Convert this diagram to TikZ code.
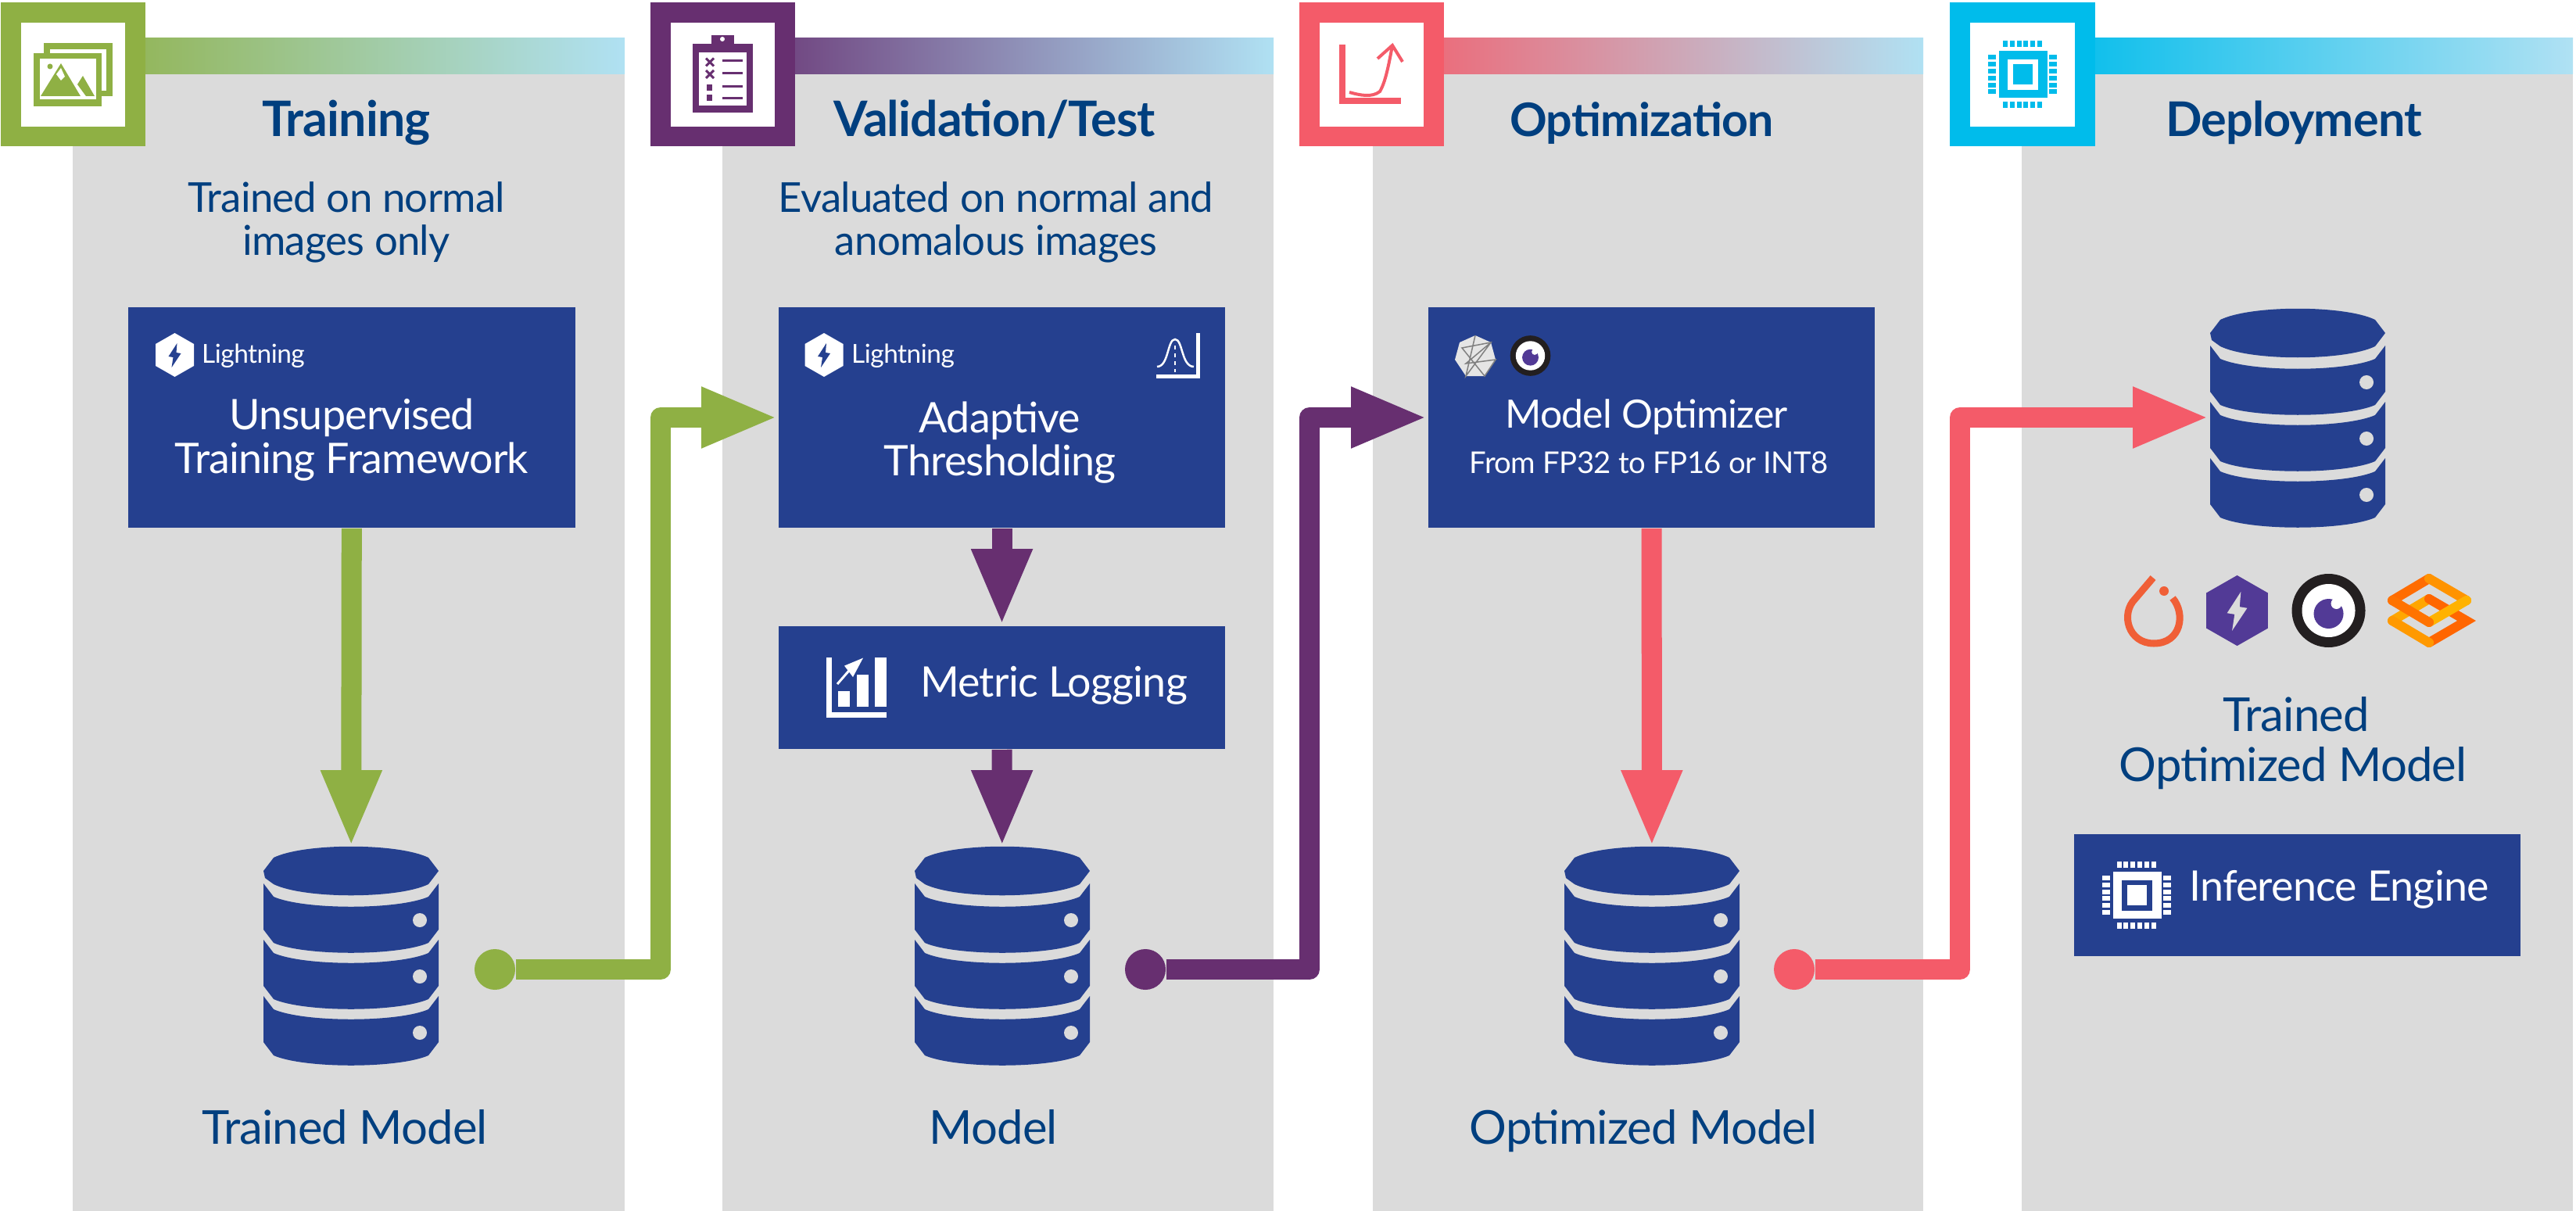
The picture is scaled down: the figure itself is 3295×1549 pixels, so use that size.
\documentclass[tikz,border=0pt]{standalone}
\usepackage{fontspec}
\setmainfont{Lato}
\usetikzlibrary{arrows.meta,positioning}
\definecolor{panelgray}{HTML}{DBDBDB}
\definecolor{boxblue}{HTML}{25408F}
\definecolor{inkblue}{HTML}{003F7F}
\definecolor{leafgreen}{HTML}{8FB044}
\definecolor{plum}{HTML}{672F70}
\definecolor{coral}{HTML}{F45B69}
\definecolor{skyblue}{HTML}{00BCEB}
\definecolor{barend}{HTML}{B0E1F3}
\definecolor{logopurple}{HTML}{523A96}
\definecolor{logoblack}{HTML}{231F20}
\definecolor{torchred}{HTML}{F05F37}
\newfontface\tightfont[LetterSpace=-1.5]{Lato}
\newfontface\headfont[LetterSpace=-1.5]{Lato Bold}
\tikzset{
  bluebox/.style={fill=boxblue,text=white,inner sep=0pt,minimum width=5.71cm},
  spot/.style={inner sep=0pt,minimum size=1pt},
  heading/.style={text=inkblue,anchor=base,font=\fontsize{17.8}{17.8}\headfont,inner sep=0pt},
  caption/.style={text=inkblue,anchor=base,font=\fontsize{15}{15}\tightfont,inner sep=0pt},
  modelname/.style={text=inkblue,anchor=base,font=\fontsize{17}{17}\tightfont,inner sep=0pt},
  boxtext/.style={text=white,anchor=base,font=\fontsize{15.3}{15.3}\tightfont,inner sep=0pt},
  litetext/.style={text=white,anchor=base,inner sep=0pt,font=\fontsize{9.5}{9.5}\tightfont},
  flow/.style={line width=0.26cm,line join=round,-{Triangle[length=0.98cm,width=0.71cm]}},
}
% stacked disks, centred on x y
\newcommand{\dbstack}[2]{
  \begin{scope}[shift={(#1,#2)},fill=boxblue]
  \fill (-112,-110) -- (-99,-127) .. controls (-60,-146) and (60,-146) .. (99,-127) -- (112,-110)
    -- (99,-93) .. controls (60,-74) and (-60,-74) .. (-99,-93) -- (-110,-101) -- cycle;
  \foreach \dy in {0,72,144} {
    \fill (-112,-94+\dy) -- (-99,-77+\dy) .. controls (-60,-60+\dy) and (60,-60+\dy) .. (99,-77+\dy)
      -- (112,-94+\dy) -- (112,-35+\dy) -- (99,-18+\dy) .. controls (60,-1+\dy) and (-60,-1+\dy) .. (-99,-18+\dy)
      -- (-112,-35+\dy) -- cycle;
    \fill[panelgray] (88,-47+\dy) circle[radius=9];
  }
  \end{scope}
}
% hexagon with a bolt
\newcommand{\bolthex}[5]{
  \begin{scope}[shift={(#1,#2)},scale=#3]
  \fill[#4] (0,-28) -- (24.5,-14) -- (24.5,14) -- (0,28) -- (-24.5,14) -- (-24.5,-14) -- cycle;
  \fill[#5] (3,-15) -- (-8,2) -- (-2,3) -- (-4,16) -- (8,-2) -- (2,-3) -- cycle;
  \end{scope}
}
\newcommand{\eyelogo}[3]{
  \begin{scope}[shift={(#1,#2)},scale=#3]
  \fill[logoblack] (0,0) circle[radius=47];
  \fill[white] (0,0) circle[radius=34];
  \fill[logopurple] (0,4) circle[radius=19];
  \fill[white] (10,-9) circle[radius=7];
  \end{scope}
}
\newcommand{\chipicon}[4]{
  \begin{scope}[shift={(#1,#2)}]
  \fill[#3] (-31,-30) rectangle (31,30);
  \fill[#4] (-20,-19) rectangle (19,20);
  \fill[#3] (-13,-13) rectangle (12,13);
  \foreach \k in {0,...,5} {
    \fill[#3] (-26+\k*8.8,-43) rectangle (-20+\k*8.8,-35);
    \fill[#3] (-26+\k*8.8,35) rectangle (-20+\k*8.8,43);
    \fill[#3] (-45,-25+\k*8.8) rectangle (-35,-19+\k*8.8);
    \fill[#3] (33,-25+\k*8.8) rectangle (43,-19+\k*8.8);
  }
  \end{scope}
}
\begin{document}
\begin{tikzpicture}[x=0.01cm,y=-0.01cm]
  \useasboundingbox (0,0) rectangle (3295,1549);

  % panels
  \fill[panelgray] (93,95) rectangle (799,1549);
  \fill[panelgray] (924,95) rectangle (1629,1549);
  \fill[panelgray] (1756,95) rectangle (2460,1549);
  \fill[panelgray] (2586,95) rectangle (3291,1549);

  % header bars
  \shade[left color=leafgreen!85!barend,right color=barend] (186,49) rectangle (799,95);
  \shade[left color=plum!85!barend,right color=barend] (1017,49) rectangle (1629,95);
  \shade[left color=coral!85!barend,right color=barend] (1847,49) rectangle (2460,95);
  \shade[left color=skyblue!90!barend,right color=barend] (2680,49) rectangle (3291,95);

  % icon tiles
  \fill[leafgreen] (1,3) rectangle (186,187);
  \fill[white] (27,29) rectangle (160,162);
  \fill[plum] (832,3) rectangle (1017,187);
  \fill[white] (858,29) rectangle (991,162);
  \fill[coral] (1662,3) rectangle (1847,187);
  \fill[white] (1688,29) rectangle (1821,162);
  \fill[skyblue] (2494,3) rectangle (2680,187);
  \fill[white] (2520,29) rectangle (2654,162);

  % pictures icon
  \fill[leafgreen] (56,55) rectangle (144,123);
  \fill[white] (64,63) rectangle (136,116);
  \fill[leafgreen] (43,68) rectangle (130,136);
  \fill[white] (51,75) rectangle (123,127);
  \fill[leafgreen] (52,123) -- (78,81) -- (103,123) -- cycle;
  \fill[white] (72,95) -- (78,87) -- (83,98) -- (78,103) -- cycle;
  \fill[leafgreen] (64,85) circle[radius=3.5];
  \fill[leafgreen] (99,108) -- (106,97) -- (121,123) -- (110,123) -- cycle;

  % clipboard icon
  \fill[plum] (886,56) rectangle (963,144);
  \fill[plum] (910,45) rectangle (939,60);
  \fill[plum] (904,56) rectangle (945,66);
  \fill[white] (894,67) rectangle (955,135);
  \fill[white] (924,50) circle[radius=3];
  \foreach \ly in {78,94,111,126} \draw[plum,line width=0.03cm] (924,\ly) -- (950,\ly);
  \foreach \ly in {79.5,95} \draw[plum,line width=0.03cm] (903,\ly-5) -- (913,\ly+5) (903,\ly+5) -- (913,\ly-5);
  \foreach \ly in {112,125} \fill[plum] (904,\ly-4) rectangle (911,\ly+4);

  % curve icon
  \draw[coral,line width=0.08cm] (1717,57) -- (1717,129.5) -- (1792,129.5);
  \draw[coral,line width=0.04cm] (1726,118) .. controls (1740,122) and (1755,125) .. (1765,117)
    .. controls (1772,105) and (1776,85) .. (1781,58);
  \draw[coral,line width=0.04cm] (1762,75) -- (1781,58) -- (1794,79);

  \chipicon{2588}{95.5}{skyblue}{white}

  % headings
  \node[heading] (titleA) at (443,175) {Training};
  \node[heading] (titleB) at (1272,175) {Validation/Test};
  \node[heading,font=\fontsize{16.8}{16.8}\headfont] (titleC) at (2100,175) {Optimization};
  \node[heading,font=\fontsize{17.4}{17.4}\headfont] (titleD) at (2934,175) {Deployment};

  \node[caption] (noteA) at (443,272) {Trained on normal};
  \node[caption] (noteAb) at (443,327) {images only};
  \node[caption] (noteB) at (1274,272) {Evaluated on normal and};
  \node[caption] (noteBb) at (1274,327) {anomalous images};

  % blue boxes
  \node[bluebox,minimum height=2.82cm] (boxA) at (450,534) {};
  \node[bluebox,minimum height=2.82cm] (boxB) at (1281.5,534) {};
  \node[bluebox,minimum height=1.57cm] (boxM) at (1281.5,879.5) {};
  \node[bluebox,minimum height=2.82cm] (boxC) at (2112.5,534) {};
  \node[bluebox,minimum height=1.565cm] (boxE) at (2938.5,1145) {};

  \bolthex{223.5}{454}{1}{white}{boxblue}
  \bolthex{1054}{454}{1}{white}{boxblue}
  \node[litetext] (liteA) at (324,464) {Lightning};
  \node[litetext] (liteB) at (1155,464) {Lightning};

  \node[boxtext] (textA) at (450,549) {Unsupervised};
  \node[boxtext] (textAb) at (450,605) {Training Framework};
  \node[boxtext] (textB) at (1279,553) {Adaptive};
  \node[boxtext] (textBb) at (1279,608) {Thresholding};
  \node[boxtext] (textM) at (1348,891) {Metric Logging};
  \node[boxtext,font=\fontsize{14.2}{14.2}\tightfont] (textC) at (2106,547) {Model Optimizer};
  \node[boxtext,font=\fontsize{10.9}{10.9}\tightfont] (textCb) at (2109,605) {From FP32 to FP16 or INT8};
  \node[boxtext] (textE) at (2992,1152) {Inference Engine};

  % bell curve icon
  \draw[white,line width=0.05cm] (1532,426) -- (1532,481) -- (1479,481);
  \draw[white,line width=0.025cm] (1480,469) .. controls (1495,469) and (1493,434) .. (1503,434)
    .. controls (1513,434) and (1511,469) .. (1527,469);
  \draw[white,line width=0.02cm,dash pattern=on 0.05cm off 0.05cm] (1503,442) -- (1503,476);

  % bars icon
  \draw[white,line width=0.07cm] (1060.5,841) -- (1060.5,914) -- (1134,914);
  \fill[white] (1072,884) rectangle (1087,904);
  \fill[white] (1096,863) rectangle (1111,904);
  \fill[white] (1118.5,841) rectangle (1134,904);
  \draw[white,line width=0.03cm] (1071,875) -- (1091,852);
  \fill[white] (1104,841.6) -- (1080,851.6) -- (1091,866) -- cycle;

  % optimizer logos
  \fill[white!90!black] (1887,429) -- (1907,438) -- (1913,460) -- (1899,481) -- (1875,481) -- (1861,460) -- (1867,438) -- cycle;
  \draw[gray,line width=0.015cm] (1887,429) -- (1875,481) -- (1907,438) -- (1870,445) -- (1899,481) -- (1913,460) -- (1875,465) -- (1907,438);
  \eyelogo{1957.5}{455}{0.55}

  % cylinders
  \node[spot,minimum width=2.24cm,minimum height=2.8cm] (dbA) at (449,1224) {};
  \node[spot,minimum width=2.24cm,minimum height=2.8cm] (dbB) at (1282,1224) {};
  \node[spot,minimum width=2.24cm,minimum height=2.8cm] (dbC) at (2113,1224) {};
  \node[spot,minimum width=2.24cm,minimum height=2.8cm] (dbD) at (2939,534) {};
  \dbstack{449}{1224}
  \dbstack{1282}{1224}
  \dbstack{2113}{1224}
  \dbstack{2939}{536}

  \node[modelname] (nameA) at (441,1463) {Trained Model};
  \node[modelname] (nameB) at (1271,1463) {Model};
  \node[modelname] (nameC) at (2102,1463) {Optimized Model};
  \node[modelname] (nameD) at (2937,935) {Trained};
  \node[modelname] (nameDb) at (2933,999) {Optimized Model};

  % framework logos
  \draw[torchred,line width=0.09cm] (2779,765) .. controls (2796,785) and (2790,823) .. (2755,823)
    .. controls (2722,823) and (2712,785) .. (2731,766) -- (2754,739);
  \fill[torchred] (2768,756) circle[radius=6];
  \bolthex{2861.5}{781}{1.61}{logopurple}{panelgray}
  \eyelogo{2978.5}{781}{1}
  \begin{scope}[line width=0.12cm,line cap=round]
  \draw[orange!70!yellow] (3060,794) -- (3107,766);
  \draw[orange!80!red] (3107,766) -- (3155,794) -- (3107,822);
  \draw[orange!80!yellow] (3107,822) -- (3060,794);
  \draw[orange!85!red] (3060,768) -- (3107,740);
  \draw[orange!85!yellow] (3107,740) -- (3155,768);
  \draw[orange!60!yellow] (3155,768) -- (3107,796);
  \draw[orange!90!red] (3107,796) -- (3060,768);
  \end{scope}

  \chipicon{2733.5}{1145}{white}{boxblue}

  % straight arrows
  \draw[flow,leafgreen] (boxA) -- (dbA);
  \draw[flow,plum] (boxB) -- (boxM);
  \draw[flow,plum] (boxM) -- (dbB);
  \draw[flow,coral] (boxC) -- (dbC);

  % dots and links between panels
  \node[spot,circle,fill=leafgreen,minimum size=0.52cm] (dotA) at (633,1240) {};
  \node[spot,circle,fill=plum,minimum size=0.52cm] (dotB) at (1465,1240) {};
  \node[spot,circle,fill=coral,minimum size=0.52cm] (dotC) at (2295,1240) {};
  \coordinate (turnA) at (845,534);
  \coordinate (turnB) at (1675,534);
  \coordinate (turnC) at (2507,534);
  \draw[flow,leafgreen] (dotA) -| (turnA) -- (boxB);
  \draw[flow,plum] (dotB) -| (turnB) -- (boxC);
  \draw[flow,coral] (dotC) -| (turnC) -- (dbD);
\end{tikzpicture}
\end{document}
